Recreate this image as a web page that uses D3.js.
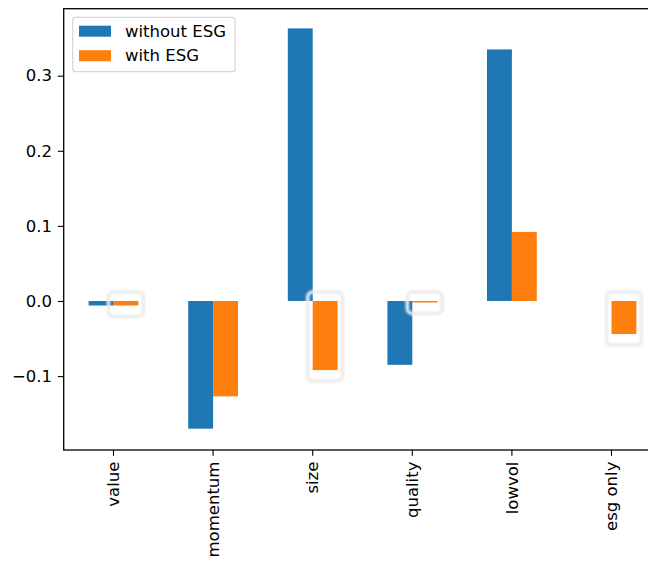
<!DOCTYPE html>
<html>
<head>
<meta charset="utf-8">
<script src="https://cdn.jsdelivr.net/npm/d3@7"></script>
<style>
  html, body { margin: 0; padding: 0; background: #fff; }
  svg { display: block; font-family: "DejaVu Sans", sans-serif; }
</style>
</head>
<body>
<svg id="chart" width="648" height="565"></svg>
<script>
// Factor exposures, with and without the ESG tilt
const categories = ["value", "momentum", "size", "quality", "lowvol", "esg only"];
const withoutESG = [-0.006, -0.170, 0.363, -0.085, 0.335, null];
const withESG    = [-0.006, -0.127, -0.092, -0.002, 0.092, -0.044];
const seriesNames = ["without ESG", "with ESG"];
const seriesColors = ["#1f77b4", "#ff7f0e"];
const yTicks = [-0.1, 0.0, 0.1, 0.2, 0.3];
// bars that carry a marker outline
const outlined = [
  {cat: "value", s: 1}, {cat: "size", s: 1}, {cat: "quality", s: 1}, {cat: "esg only", s: 1}
];

const FONT = "DejaVu Sans, sans-serif";
const FS = 16.5;

const svg = d3.select("#chart");
const plotLeft = 63.7, plotRight = 661.3, plotTop = 8.7, plotBottom = 450;

const x = d3.scaleBand().domain(categories).range([plotLeft, plotRight]).paddingInner(0.5).paddingOuter(0.25);
const y = d3.scaleLinear().domain([-0.1984, 0.3892]).range([plotBottom, plotTop]);
const sub = d3.scaleBand().domain([0, 1]).range([0, x.bandwidth()]);

const defs = svg.append("defs");
defs.append("filter").attr("id", "soft")
  .attr("x", "-50%").attr("y", "-50%").attr("width", "200%").attr("height", "200%")
  .append("feGaussianBlur").attr("stdDeviation", 1.0);

const series = [withoutESG, withESG];
series.forEach((vals, s) => {
  svg.append("g").selectAll("rect")
    .data(categories.map((c, i) => ({c, v: vals[i]})).filter(d => d.v !== null))
    .join("rect")
    .attr("x", d => x(d.c) + sub(s))
    .attr("width", sub.bandwidth())
    .attr("y", d => y(Math.max(0, d.v)))
    .attr("height", d => Math.abs(y(d.v) - y(0)))
    .attr("fill", seriesColors[s]);
});

// light outlines drawn around selected bars
svg.append("g").attr("filter", "url(#soft)").selectAll("rect")
  .data(outlined)
  .join("rect")
  .attr("x", d => x(d.cat) + sub(d.s) - 5)
  .attr("width", sub.bandwidth() + 10)
  .attr("y", d => { const v = withESG[categories.indexOf(d.cat)]; return y(Math.max(0, v)) - 9; })
  .attr("height", d => { const v = withESG[categories.indexOf(d.cat)]; return Math.abs(y(v) - y(0)) + 20; })
  .attr("rx", 5)
  .attr("fill", "none")
  .attr("stroke", "#ebebeb")
  .attr("stroke-width", 3.5);

// axes
const xAxis = d3.axisBottom(x).tickSize(5.8).tickPadding(5.8);
const gx = svg.append("g").attr("transform", `translate(0,${plotBottom})`).call(xAxis)
  .attr("font-family", FONT).attr("font-size", FS);
gx.select(".domain").remove();
gx.selectAll(".tick line").attr("stroke", "#000").attr("stroke-width", 1.1);
gx.selectAll(".tick text")
  .attr("fill", "#000")
  .attr("transform", "rotate(-90)")
  .attr("text-anchor", "end")
  .attr("x", -11.6).attr("y", 0).attr("dy", "0.35em");

const yAxis = d3.axisLeft(y).tickValues(yTicks).tickSize(5.8).tickPadding(5.8)
  .tickFormat(d => d3.format(".1f")(d).replace("-", "\u2212"));
const gy = svg.append("g").attr("transform", `translate(${plotLeft},0)`).call(yAxis)
  .attr("font-family", FONT).attr("font-size", FS);
gy.select(".domain").remove();
gy.selectAll(".tick line").attr("stroke", "#000").attr("stroke-width", 1.1);
gy.selectAll(".tick text").attr("fill", "#000");

// frame
svg.append("rect").attr("x", plotLeft).attr("y", plotTop)
  .attr("width", plotRight - plotLeft).attr("height", plotBottom - plotTop)
  .attr("fill", "none").attr("stroke", "#000").attr("stroke-width", 1.3);

// legend
const lg = svg.append("g").attr("font-family", FONT).attr("font-size", FS);
lg.append("rect").attr("x", 72.7).attr("y", 17.3).attr("width", 162.3).attr("height", 54.4)
  .attr("rx", 3).attr("fill", "#fff").attr("fill-opacity", 0.8).attr("stroke", "#d6d6d6").attr("stroke-width", 1.2);
seriesNames.forEach((name, i) => {
  const yy = 25.7 + i * 24.5;
  lg.append("rect").attr("x", 79).attr("y", yy).attr("width", 32).attr("height", 11).attr("fill", seriesColors[i]);
  lg.append("text").attr("x", 125).attr("y", yy + 5.5).attr("dy", "0.35em")
    .attr("fill", "#000").text(name);
});
</script>
</body>
</html>
